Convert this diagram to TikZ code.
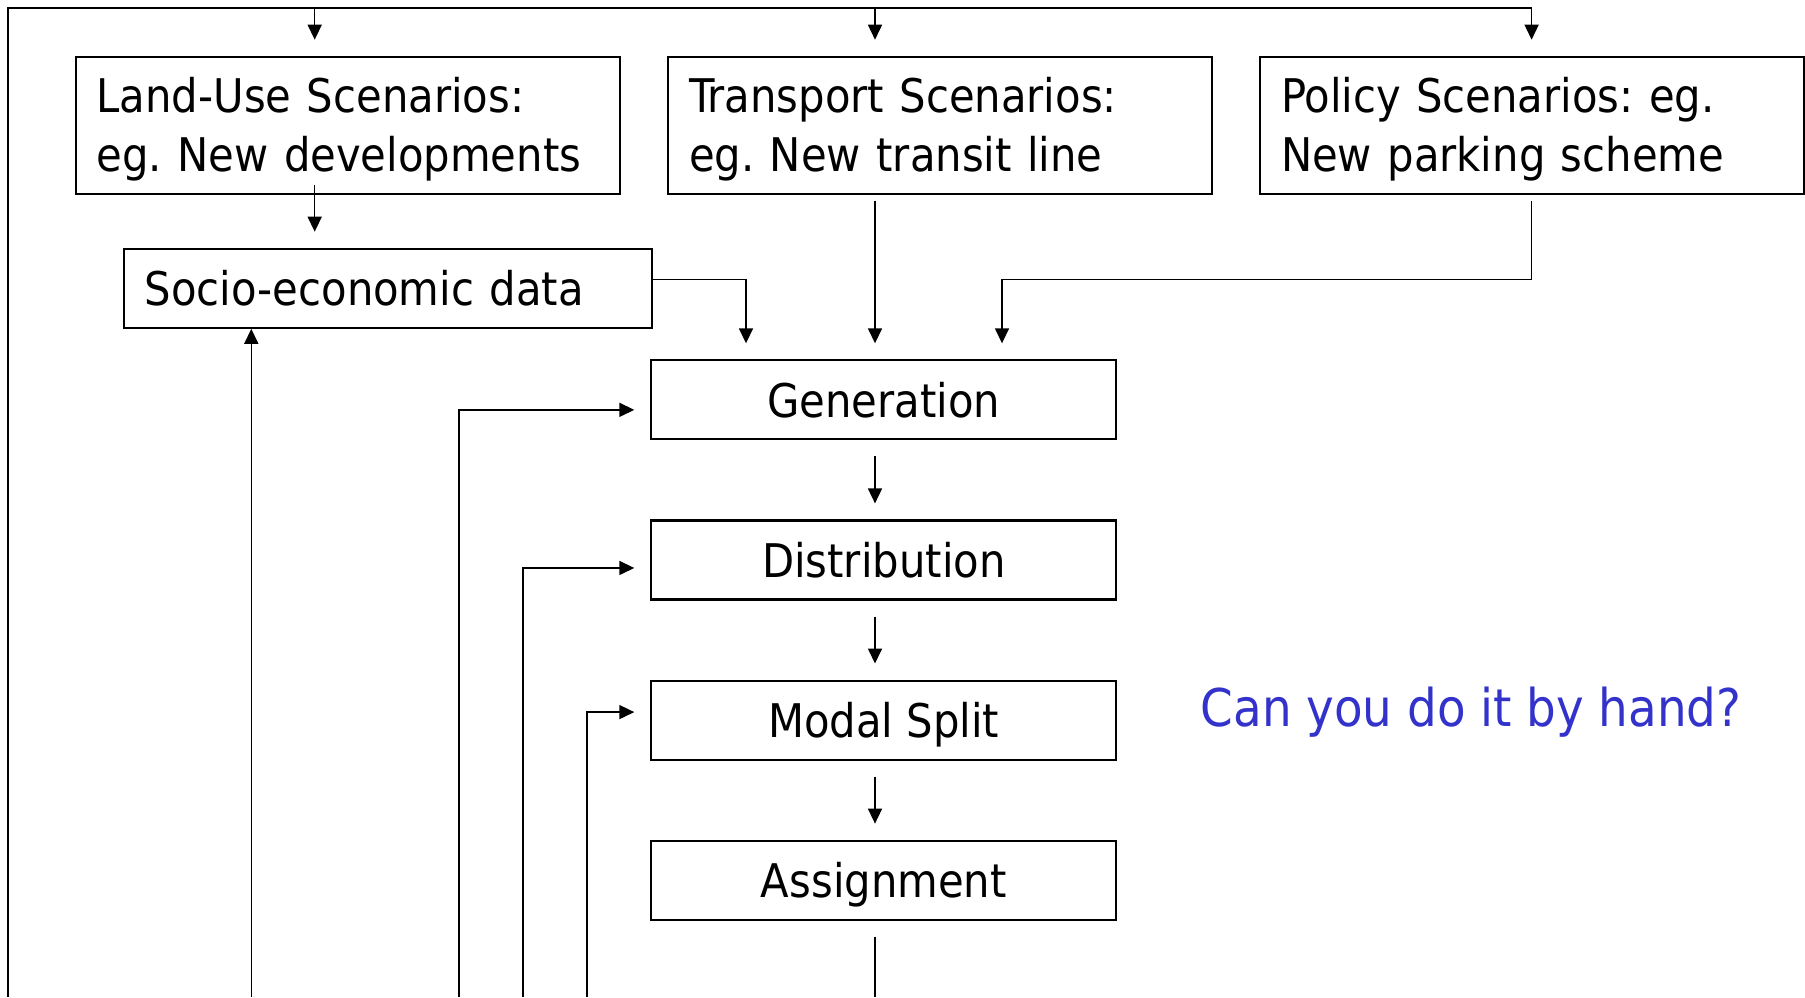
\documentclass[tikz,border=0pt]{standalone}
\usepackage{fontspec}
\setmainfont{DejaVu Sans Condensed}
\usetikzlibrary{arrows.meta}
\usetikzlibrary{positioning}
\frenchspacing

\definecolor{askblue}{HTML}{3333CC}

\tikzset{
  wire/.style={line width=0.45pt},
  link/.style={wire, -{Triangle[length=1.5mm, width=1.4mm]}, shorten >=1.6mm},
  scenbox/.style={draw, line width=0.6pt, anchor=north west, text width=50.2mm,
    inner xsep=2.1mm, minimum height=13.7mm, align=left,
    execute at begin node={\rule{0pt}{4.4mm}},
    font=\fontsize{13.2}{16.8}\selectfont},
  databox/.style={draw, line width=0.6pt, anchor=north west, text width=48.6mm,
    inner xsep=2.1mm, minimum height=7.9mm, align=left,
    font=\fontsize{13.2}{16.8}\selectfont},
  stagebox/.style={draw, line width=0.6pt, minimum width=46.5mm,
    minimum height=7.9mm, text height=3.5mm, text depth=0pt,
    font=\fontsize{13.2}{16.8}\selectfont},
}

\begin{document}
\begin{tikzpicture}[x=0.1mm, y=-0.1mm]
  \useasboundingbox (0,0) rectangle (1805,997);

  % scenario row
  \node[scenbox] (land) at (74.6,55.7) {Land-Use Scenarios:\\eg. New developments};
  \node[scenbox] (trans) at (667,55.7) {Transport Scenarios:\\eg. New transit line};
  \node[scenbox] (policy) at (1259,55.7) {Policy Scenarios: eg.\\New parking scheme};

  \node[databox] (socio) at (122.8,247.7) {Socio-economic data};

  % four-step chain
  \node[stagebox, anchor=north west] (gen) at (650.3,359.3) {Generation};
  \node[stagebox, below=7.9mm of gen] (dist) {Distribution};
  \node[stagebox, below=7.9mm of dist] (modal) {Modal Split};
  \node[stagebox, below=7.9mm of modal] (assign) {Assignment};

  \node[anchor=base west, inner sep=0pt, text=askblue,
    font=\fontsize{14.8}{18}\selectfont] (ask) at (1200,726.7) {Can you do it by hand?};

  % helper points
  \coordinate (topL) at (8,8);
  \coordinate (topR) at (1531.6,8);
  \coordinate (colA) at (314.7,0);
  \coordinate (colB) at (746,0);
  \coordinate (colC) at (875,0);
  \coordinate (colD) at (1002,0);
  \coordinate (joinY) at (0,279.3);
  \coordinate (bot) at (0,997);
  \coordinate (fbSocio) at (251.3,997);
  \coordinate (fbGen) at (459,997);
  \coordinate (fbDist) at (523,997);
  \coordinate (fbModal) at (587,997);

  % outer loop back over the top
  \draw[wire] (topL |- bot) -- (topL) -- (topR);
  \draw[link] (colA |- topL) -- (colA |- land.north);
  \draw[link] (colC |- topL) -- (colC |- trans.north);
  \draw[link] (topR) -- (topR |- policy.north);

  % scenarios into the model
  \draw[link, shorten <=-1mm] (colA |- land.south) -- (colA |- socio.north);
  \draw[link] (socio.east |- joinY) -| (colB |- gen.north);
  \draw[link, shorten <=0.6mm] (colC |- trans.south) -- (colC |- gen.north);
  \draw[link, shorten <=0.6mm] (topR |- policy.south) -- (topR |- joinY) -| (colD |- gen.north);

  % down the chain
  \draw[link, shorten <=1.6mm] (colC |- gen.south) -- (colC |- dist.north);
  \draw[link, shorten <=1.6mm] (colC |- dist.south) -- (colC |- modal.north);
  \draw[link, shorten <=1.6mm] (colC |- modal.south) -- (colC |- assign.north);
  \draw[wire, shorten <=1.6mm] (colC |- assign.south) -- (colC |- bot);

  % feedback from below
  \draw[link, shorten >=0pt] (fbSocio) -- (fbSocio |- socio.south);
  \draw[link] (fbGen) |- ([yshift=-1mm]gen.west);
  \draw[link] (fbDist) |- ([yshift=-0.8mm]dist.west);
  \draw[link] (fbModal) |- ([yshift=0.8mm]modal.west);
\end{tikzpicture}
\end{document}
